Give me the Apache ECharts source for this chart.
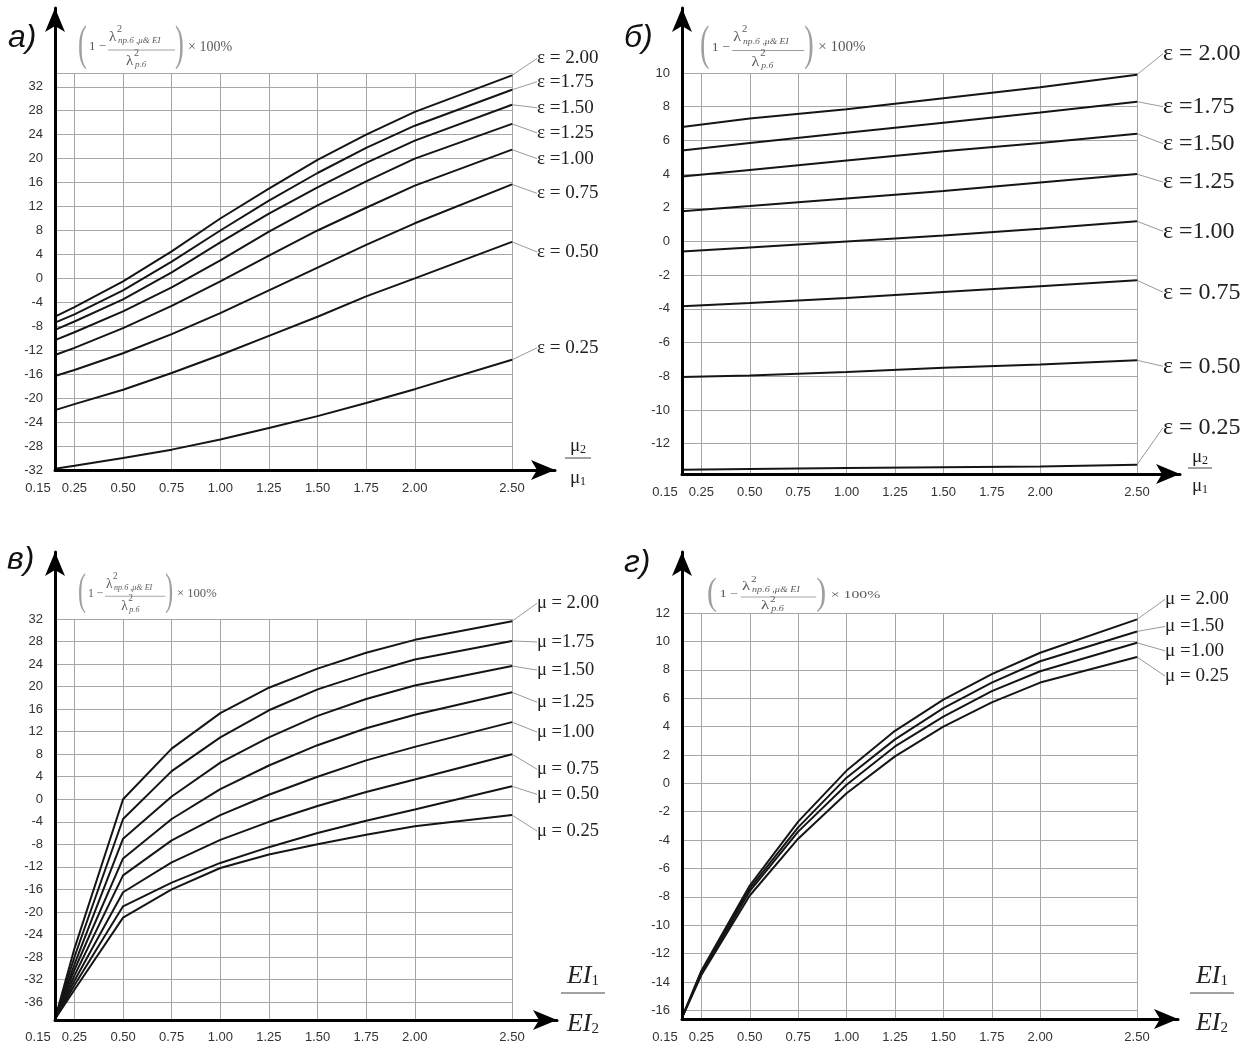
<!DOCTYPE html>
<html><head><meta charset="utf-8">
<script src="https://cdn.jsdelivr.net/npm/echarts@6/dist/echarts.min.js"></script>
<style>html,body{margin:0;padding:0;background:#fff}#c{width:1259px;height:1044px}</style>
</head><body><div id="c"></div>
<script>
// ---------- data ----------
const xTickLabels = [0.15, 0.25, 0.50, 0.75, 1.00, 1.25, 1.50, 1.75, 2.00, 2.50];
const xGridValues = [0.25, 0.50, 0.75, 1.00, 1.25, 1.50, 1.75, 2.00, 2.50];

const yTicksA = [-32,-28,-24,-20,-16,-12,-8,-4,0,4,8,12,16,20,24,28,32];
const yTicksB = [-12,-10,-8,-6,-4,-2,0,2,4,6,8,10];
const yTicksC = [-36,-32,-28,-24,-20,-16,-12,-8,-4,0,4,8,12,16,20,24,28,32];
const yTicksD = [-16,-14,-12,-10,-8,-6,-4,-2,0,2,4,6,8,10,12];

const namesA = ['ε = 2.00','ε =1.75','ε =1.50','ε =1.25','ε =1.00','ε = 0.75','ε = 0.50','ε = 0.25'];
const namesB = ['ε = 2.00','ε =1.75','ε =1.50','ε =1.25','ε =1.00','ε = 0.75','ε = 0.50','ε = 0.25'];
const namesC = ['μ = 2.00','μ =1.75','μ =1.50','μ =1.25','μ =1.00','μ = 0.75','μ = 0.50','μ = 0.25'];
const namesD = ['μ = 2.00','μ =1.50','μ =1.00','μ = 0.25'];

// panel а
const xA = [0.15, 0.25, 0.5, 0.75, 1.0, 1.25, 1.5, 1.75, 2.0, 2.5];
const a_e200 = [-6.4, -4.8, -0.5, 4.5, 10, 15, 19.8, 24, 27.8, 33.9];
const a_e175 = [-7.4, -6, -2, 2.8, 8, 13, 17.6, 21.8, 25.5, 31.5];
const a_e150 = [-8.6, -7.2, -3.5, 1, 6, 10.8, 15.2, 19.3, 23, 29];
const a_e125 = [-10.3, -9, -5.5, -1.5, 3, 7.8, 12.2, 16.2, 20, 25.8];
const a_e100 = [-12.8, -11.6, -8.3, -4.6, -0.5, 3.8, 8, 11.8, 15.5, 21.5];
const a_e075 = [-16.3, -15.3, -12.5, -9.3, -5.8, -2, 1.8, 5.6, 9.2, 15.7];
const a_e050 = [-22, -21, -18.6, -15.8, -12.8, -9.6, -6.4, -3, 0, 6.1];
const a_e025 = [-31.8, -31.3, -30, -28.6, -26.9, -25, -23, -20.8, -18.5, -13.6];

// panel б
const xB = [0.15, 0.5, 1.0, 1.5, 2.0, 2.5];
const b_e200 = [6.8, 7.3, 7.85, 8.5, 9.15, 9.9];
const b_e175 = [5.4, 5.85, 6.45, 7.05, 7.65, 8.3];
const b_e150 = [3.85, 4.25, 4.8, 5.35, 5.85, 6.4];
const b_e125 = [1.8, 2.1, 2.55, 3.0, 3.5, 4.0];
const b_e100 = [-0.6, -0.35, 0.0, 0.35, 0.75, 1.2];
const b_e075 = [-3.85, -3.65, -3.35, -3.0, -2.65, -2.3];
const b_e050 = [-8.05, -7.95, -7.75, -7.5, -7.3, -7.05];
const b_e025 = [-13.55, -13.5, -13.45, -13.4, -13.35, -13.25];

// panel в
const xC = [0.15, 0.25, 0.5, 0.75, 1.0, 1.25, 1.5, 1.75, 2.0, 2.5];
const c_m200 = [-39, -26.5, 0, 9, 15.3, 19.8, 23.2, 26, 28.3, 31.6];
const c_m175 = [-39, -28, -3.5, 5, 11, 15.8, 19.5, 22.3, 24.8, 28.1];
const c_m150 = [-39, -29.3, -7, 0.5, 6.5, 11, 14.8, 17.8, 20.2, 23.65];
const c_m125 = [-39, -30.3, -10.5, -3.5, 1.8, 6, 9.6, 12.6, 15, 19];
const c_m100 = [-39, -31.3, -13.5, -7.3, -2.8, 0.8, 4, 6.9, 9.3, 13.7];
const c_m075 = [-39, -32.2, -16.5, -11.2, -7.2, -4, -1.2, 1.3, 3.5, 8.0];
const c_m050 = [-39, -33, -19, -14.8, -11.3, -8.5, -6, -3.8, -1.8, 2.3];
const c_m025 = [-39, -33.8, -21, -16, -12.2, -9.8, -8, -6.3, -4.8, -2.8];

// panel г
const xD = [0.15, 0.25, 0.5, 0.75, 1.0, 1.25, 1.5, 1.75, 2.0, 2.5];
const d_m200 = [-16.5, -13.2, -7.2, -2.7, 0.9, 3.7, 5.9, 7.7, 9.2, 11.55];
const d_m150 = [-16.5, -13.3, -7.4, -3.1, 0.4, 3.1, 5.3, 7.1, 8.6, 10.7];
const d_m100 = [-16.5, -13.4, -7.6, -3.4, -0.1, 2.6, 4.7, 6.5, 7.9, 9.9];
const d_m025 = [-16.5, -13.5, -7.9, -3.9, -0.7, 1.9, 4.0, 5.7, 7.1, 8.9];

// ---------- layout ----------
const panels = [
  { x: xA, curves: [a_e200,a_e175,a_e150,a_e125,a_e100,a_e075,a_e050,a_e025], names: namesA,
    yMin: -32, yMax: 34.3, yTicks: yTicksA,
    grid: {left:55, top:73, width:457, height:397}, axisGrid: {left:55, top:8, width:500, height:462},
    labelDx: 25, labelDy: [-17,-8,3,9,9,9,10,-12], labelSize: 19 },
  { x: xB, curves: [b_e200,b_e175,b_e150,b_e125,b_e100,b_e075,b_e050,b_e025], names: namesB,
    yMin: -13.8, yMax: 10, yTicks: yTicksB,
    grid: {left:682, top:73, width:455, height:401}, axisGrid: {left:682, top:8, width:498, height:466},
    labelDx: 26, labelDy: [-21,5,10,8,10,12,6,-37], labelSize: 24 },
  { x: xC, curves: [c_m200,c_m175,c_m150,c_m125,c_m100,c_m075,c_m050,c_m025], names: namesC,
    yMin: -39, yMax: 32, yTicks: yTicksC,
    grid: {left:55, top:619, width:457, height:401}, axisGrid: {left:55, top:552, width:502, height:468},
    labelDx: 25, labelDy: [-18,1,4,10,10,15,8,16], labelSize: 18.5 },
  { x: xD, curves: [d_m200,d_m150,d_m100,d_m025], names: namesD,
    yMin: -16.6, yMax: 12, yTicks: yTicksD,
    grid: {left:682, top:613, width:455, height:406}, axisGrid: {left:682, top:552, width:496, height:467},
    labelDx: 28, labelDy: [-20,-5,8,19], labelSize: 19 }
];

const LBL = {fontFamily:'Liberation Sans', fontSize:13, color:'#333'};
const grids = [], xAxes = [], yAxes = [], series = [];

panels.forEach((p, i) => {
  const gi = grids.length;
  grids.push(Object.assign({containLabel:false}, p.grid));
  grids.push(Object.assign({containLabel:false}, p.axisGrid));
  xAxes.push({
    type:'value', gridIndex: gi, min: 0.15, max: 2.5,
    axisLine:{show:false},
    axisTick:{show:false, customValues: xGridValues},
    axisLabel: Object.assign({}, LBL, {
      customValues: xTickLabels, margin: 12,
      formatter: v => (Math.abs(v - 0.15) < 1e-9 ? '{s|' + v.toFixed(2) + '}' : v.toFixed(2)),
      rich: {s: Object.assign({}, LBL, {padding:[0,34,0,0]})}
    }),
    splitLine:{show:true, lineStyle:{color:'#a6a6a6', width:1}}
  });
  yAxes.push({
    type:'value', gridIndex: gi, min: p.yMin, max: p.yMax,
    axisLine:{show:false},
    axisTick:{show:false, customValues: p.yTicks.concat([p.yMax])},
    axisLabel: Object.assign({}, LBL, {customValues: p.yTicks, margin: 12}),
    splitLine:{show:true, lineStyle:{color:'#a6a6a6', width:1}}
  });
  const axisLineCfg = {show:true, onZero:false, symbol:['none','arrow'], symbolSize:[15,24],
                       lineStyle:{color:'#000', width:3}};
  xAxes.push({type:'value', gridIndex: gi+1, min:0, max:1, axisLine: axisLineCfg,
              axisTick:{show:false}, axisLabel:{show:false}, splitLine:{show:false}, z: 5});
  yAxes.push({type:'value', gridIndex: gi+1, min:0, max:1, axisLine: axisLineCfg,
              axisTick:{show:false}, axisLabel:{show:false}, splitLine:{show:false}, z: 5});

  p.curves.forEach((vals, j) => {
    const last = vals.length - 1;
    const dy = p.labelDy[j];
    series.push({
      type:'line', xAxisIndex: xAxes.length - 2, yAxisIndex: yAxes.length - 2,
      data: vals.map((v, k) => k === last ? {
        value:[p.x[k], v],
        label:{show:true, position:'right', formatter: p.names[j],
               fontFamily:'Liberation Serif', fontSize: p.labelSize, color:'#222'}
      } : [p.x[k], v]),
      symbol:'circle', symbolSize: 1, showSymbol: true,
      itemStyle:{color:'#151515'},
      lineStyle:{color:'#151515', width:2},
      label:{show:false},
      labelLine:{show:true, lineStyle:{color:'#9a9a9a', width:1}},
      labelLayout: params => params.dataIndex === last ? {
        x: params.rect.x + params.rect.width / 2 + p.labelDx,
        y: params.rect.y + params.rect.height / 2 + dy,
        align:'left', verticalAlign:'middle'
      } : {},
      clip:false, silent:true, animation:false, z: 3
    });
  });
});

// ---------- annotations ----------
function formula(x, y, sx, sy) {
  const g = '#5a5a5a', serif = 'Liberation Serif';
  const t = (text, tx, ty, size, extra, elExtra) => Object.assign({type:'text', x: tx, y: ty, style: Object.assign({
      text, x: 0, y: 0, fontSize: size, fontFamily: serif, fill: g,
      align:'left', verticalAlign:'middle'}, extra || {})}, elExtra || {});
  return {
    type:'group', x, y, scaleX: sx, scaleY: sy, silent: true,
    children: [
      t('(', 0, 21, 48, {fill:'#a0a0a0'}, {scaleX:0.55}),
      t('1 −', 11, 22, 13),
      t('λ', 31, 12, 15),
      t('2', 39, 4, 10),
      t('пр.б ,μ& EI', 40, 16, 9, {fontStyle:'italic'}),
      {type:'line', shape:{x1:30, y1:25, x2:97, y2:25}, style:{stroke:'#888', lineWidth:0.8}},
      t('λ', 48, 36, 15),
      t('2', 56, 28, 10),
      t('р.б', 57, 40, 9, {fontStyle:'italic'}),
      t(')', 97, 21, 48, {fill:'#a0a0a0'}, {scaleX:0.55}),
      t('× 100%', 110, 22, 14)
    ]
  };
}
function letter(text, x, y) {
  return {type:'text', silent:true, style:{text, x, y, fontSize:32, fontStyle:'italic',
          fontFamily:'Liberation Sans', fill:'#111', align:'left', verticalAlign:'middle'}};
}
function muFrac(cx, y1, yl, y2, half) {
  const rich = {m:{fontFamily:'Liberation Serif', fontSize:19, fill:'#222', color:'#222'},
                s:{fontFamily:'Liberation Serif', fontSize:12, fill:'#222', color:'#222', padding:[8,0,0,0]}};
  return {type:'group', silent:true, children:[
    {type:'text', style:{text:'{m|μ}{s|2}', rich, x:cx, y:y1, align:'center', verticalAlign:'middle'}},
    {type:'line', shape:{x1:cx-half, y1:yl, x2:cx+half, y2:yl}, style:{stroke:'#444', lineWidth:1}},
    {type:'text', style:{text:'{m|μ}{s|1}', rich, x:cx, y:y2, align:'center', verticalAlign:'middle'}}
  ]};
}
function eiFrac(cx, y1, yl, y2, half) {
  const rich = {m:{fontFamily:'Liberation Serif', fontStyle:'italic', fontSize:26, fill:'#222', color:'#222'},
                s:{fontFamily:'Liberation Serif', fontSize:15, fill:'#222', color:'#222', padding:[10,0,0,0]}};
  return {type:'group', silent:true, children:[
    {type:'text', style:{text:'{m|EI}{s|1}', rich, x:cx, y:y1, align:'center', verticalAlign:'middle'}},
    {type:'line', shape:{x1:cx-half, y1:yl, x2:cx+half, y2:yl}, style:{stroke:'#444', lineWidth:1}},
    {type:'text', style:{text:'{m|EI}{s|2}', rich, x:cx, y:y2, align:'center', verticalAlign:'middle'}}
  ]};
}

const graphic = [
  letter('а)', 8, 38), letter('б)', 624, 38), letter('в)', 7, 560), letter('г)', 624, 563),
  formula(78, 25, 1, 1), formula(700, 25, 1.075, 1.02), formula(78, 573, 0.9, 0.93), formula(707, 577, 1.125, 0.8),
  muFrac(578, 446, 458, 478, 13), muFrac(1200, 457, 468, 486, 12),
  eiFrac(583, 976, 993, 1024, 22), eiFrac(1212, 976, 993, 1023, 22)
];

const chart = echarts.init(document.getElementById('c'));
chart.setOption({
  animation:false, backgroundColor:'#fff',
  grid: grids, xAxis: xAxes, yAxis: yAxes, series, graphic
});
</script></body></html>
